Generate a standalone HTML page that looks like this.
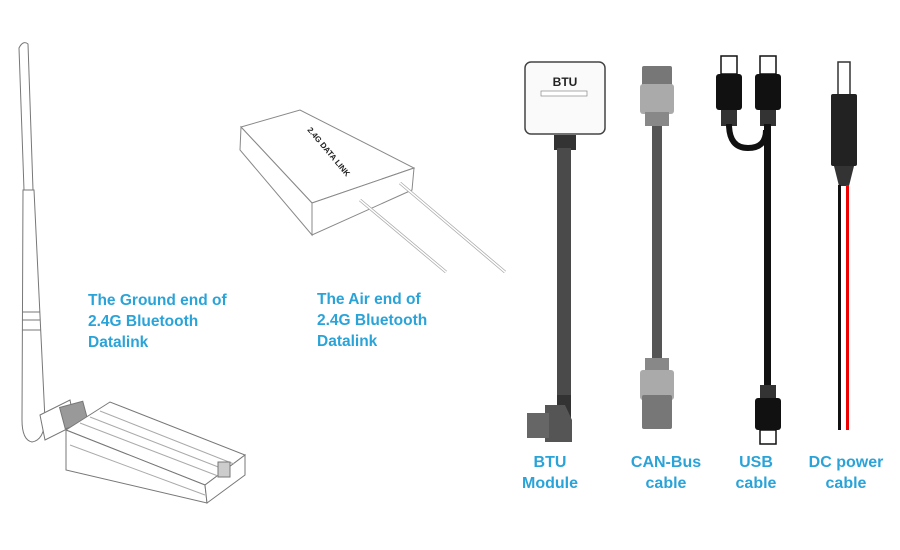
<!DOCTYPE html>
<html><head><meta charset="utf-8"><style>
html,body{margin:0;padding:0;background:#fff;}
svg{display:block}
text{font-family:"Liberation Sans",sans-serif;font-weight:bold;fill:#2aa3d8;font-size:15.5px}
</style></head><body>
<svg width="900" height="550" viewBox="0 0 900 550" xmlns="http://www.w3.org/2000/svg">
<rect width="900" height="550" fill="#fff"/>
<!-- antenna -->
<g fill="#fff" stroke="#777" stroke-width="1">
<path d="M19,48 Q23,40 28,44 L33,190 L24,190 Z"/>
<path d="M23,190 L34,190 L45,420 Q44,440 32,442 Q22,440 22,420 Z"/>
<line x1="22" y1="312" x2="40" y2="312"/><line x1="22" y1="320" x2="40" y2="320"/><line x1="22" y1="330" x2="41" y2="330"/>
<path d="M40,415 L70,400 L75,425 L45,440 Z"/>
<rect x="62" y="404" width="24" height="22" fill="#999" transform="rotate(-15 74 415)"/>
<!-- ground module -->
<path d="M66,430 L110,402 L245,455 L205,485 Z"/>
<path d="M66,430 L205,485 L207,503 L66,470 Z"/>
<path d="M205,485 L245,455 L245,475 L207,503 Z"/>
<g stroke="#aaa"><line x1="80" y1="423" x2="218" y2="476"/><line x1="90" y1="417" x2="226" y2="470"/><line x1="100" y1="411" x2="234" y2="464"/><line x1="70" y1="445" x2="205" y2="495"/></g>
<rect x="218" y="462" width="12" height="15" fill="#ccc"/>
</g>
<!-- air module -->
<g fill="#fff" stroke="#888" stroke-width="1">
<path d="M241,127 L300,110 L414,168 L312,203 Z"/>
<path d="M241,127 L312,203 L312,235 L240,150 Z"/>
<path d="M312,203 L414,168 L412,190 L312,235 Z"/>
<line x1="360" y1="200" x2="446" y2="272" stroke="#aaa" stroke-width="3"/>
<line x1="360" y1="200" x2="446" y2="272" stroke="#fff" stroke-width="1.5"/>
<line x1="400" y1="183" x2="505" y2="272" stroke="#aaa" stroke-width="3"/>
<line x1="400" y1="183" x2="505" y2="272" stroke="#fff" stroke-width="1.5"/>
</g>
<text x="307" y="130" transform="rotate(50 307 130)" style="font-size:8px;fill:#222">2.4G DATA LINK</text>
<!-- labels left -->
<text x="88" y="305">The Ground end of</text>
<text x="88" y="326">2.4G Bluetooth</text>
<text x="88" y="347">Datalink</text>
<text x="317" y="304">The Air end of</text>
<text x="317" y="325">2.4G Bluetooth</text>
<text x="317" y="346">Datalink</text>
<!-- BTU -->
<rect x="525" y="62" width="80" height="72" rx="6" fill="#fafafa" stroke="#444" stroke-width="1.5"/>
<text x="565" y="86" text-anchor="middle" style="fill:#222;font-size:12px">BTU</text>
<rect x="541" y="91" width="46" height="5" fill="#fff" stroke="#888" stroke-width="0.7"/>
<rect x="554" y="135" width="22" height="15" fill="#333"/>
<rect x="557" y="148" width="14" height="250" fill="#4a4a4a"/>
<rect x="557" y="395" width="14" height="30" fill="#333"/>
<path d="M545,405 L565,405 L572,420 L572,442 L545,442 Z" fill="#555"/>
<rect x="527" y="413" width="22" height="25" fill="#666"/>
<!-- CAN -->
<rect x="642" y="66" width="30" height="36" fill="#777" rx="2"/>
<rect x="640" y="84" width="34" height="30" fill="#aaa" rx="3"/>
<rect x="645" y="112" width="24" height="14" fill="#888"/>
<rect x="652" y="126" width="10" height="232" fill="#555"/>
<rect x="645" y="358" width="24" height="14" fill="#888"/>
<rect x="640" y="370" width="34" height="30" fill="#aaa" rx="3"/>
<rect x="642" y="395" width="30" height="34" fill="#777" rx="2"/>
<!-- USB -->
<g fill="#111">
<rect x="721" y="56" width="16" height="18" fill="#fff" stroke="#111" stroke-width="1.5"/>
<rect x="716" y="74" width="26" height="36" rx="3"/>
<rect x="721" y="110" width="16" height="16" fill="#333"/>
<rect x="760" y="56" width="16" height="18" fill="#fff" stroke="#111" stroke-width="1.5"/>
<rect x="755" y="74" width="26" height="36" rx="3"/>
<rect x="760" y="110" width="16" height="16" fill="#333"/>
<rect x="764" y="124" width="7" height="265"/>
<rect x="760" y="385" width="16" height="16" fill="#333"/>
<rect x="755" y="398" width="26" height="32" rx="3"/>
<rect x="760" y="430" width="16" height="14" fill="#fff" stroke="#111" stroke-width="1.5"/>
</g>
<path d="M729,124 Q729,148 748,148 Q766,148 766,130" fill="none" stroke="#111" stroke-width="6"/>
<!-- DC -->
<rect x="838" y="62" width="12" height="34" fill="#fff" stroke="#333" stroke-width="1.5"/>
<rect x="831" y="94" width="26" height="72" rx="2" fill="#222"/>
<path d="M834,166 L854,166 L849,186 L839,186 Z" fill="#333"/>
<rect x="838" y="185" width="3" height="245" fill="#111"/>
<rect x="846" y="185" width="3" height="245" fill="#e00"/>
<!-- bottom labels -->
<g style="font-size:16px">
<text x="550" y="467" text-anchor="middle" style="font-size:16px">BTU</text>
<text x="550" y="488" text-anchor="middle" style="font-size:16px">Module</text>
<text x="666" y="467" text-anchor="middle" style="font-size:16px">CAN-Bus</text>
<text x="666" y="488" text-anchor="middle" style="font-size:16px">cable</text>
<text x="756" y="467" text-anchor="middle" style="font-size:16px">USB</text>
<text x="756" y="488" text-anchor="middle" style="font-size:16px">cable</text>
<text x="846" y="467" text-anchor="middle" style="font-size:16px">DC power</text>
<text x="846" y="488" text-anchor="middle" style="font-size:16px">cable</text>
</g>
</svg>
</body></html>
